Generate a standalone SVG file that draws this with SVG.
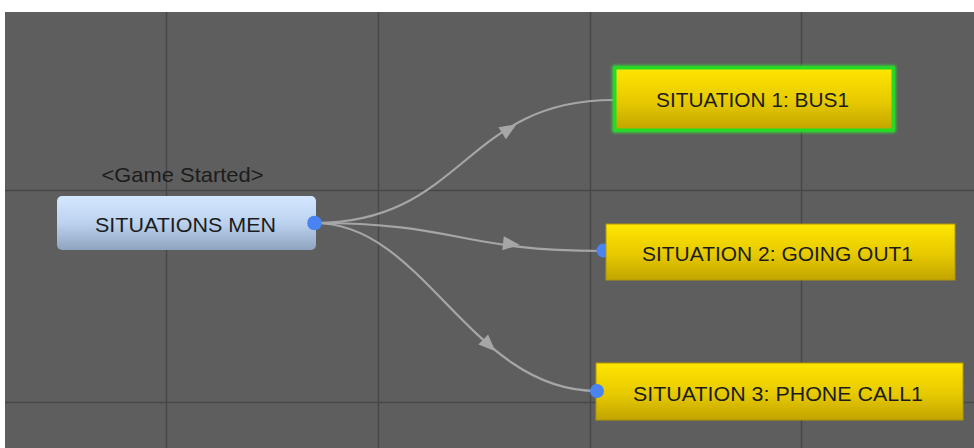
<svg xmlns="http://www.w3.org/2000/svg" width="974" height="448" viewBox="0 0 974 448">
  <defs>
    <linearGradient id="gBlue" x1="0" y1="0" x2="0" y2="1">
      <stop offset="0" stop-color="#d4e7ff"/>
      <stop offset="0.5" stop-color="#bcd2ee"/>
      <stop offset="1" stop-color="#8ea4bf"/>
    </linearGradient>
    <linearGradient id="gYellow" x1="0" y1="0" x2="0" y2="1">
      <stop offset="0" stop-color="#ffe600"/>
      <stop offset="0.55" stop-color="#e6c900"/>
      <stop offset="1" stop-color="#c2a400"/>
    </linearGradient>
    <filter id="glow" x="-10%" y="-30%" width="120%" height="160%">
      <feGaussianBlur stdDeviation="1.5"/>
    </filter>
  </defs>
  <style>
    .grid { stroke: #474747; stroke-width: 1.5; }
    .edge { fill: none; stroke: #a6a6a6; stroke-width: 2.2; }
    .arrow { fill: #a6a6a6; }
    .dot { fill: #4a84f2; }
    .label { font-family: "Liberation Sans", Arial, sans-serif; font-size: 21px; fill: #1c1c1c; text-anchor: middle; }
    .yel { fill: url(#gYellow); stroke: #b29600; stroke-width: 1; }
  </style>
  <rect x="0" y="0" width="974" height="448" fill="#ffffff"/>
  <rect x="5" y="12" width="969" height="436" fill="#5e5e5e"/>
  <g id="grid">
    <line class="grid" x1="166.5" y1="12" x2="166.5" y2="448"/>
    <line class="grid" x1="378.5" y1="12" x2="378.5" y2="448"/>
    <line class="grid" x1="590.5" y1="12" x2="590.5" y2="448"/>
    <line class="grid" x1="801.5" y1="12" x2="801.5" y2="448"/>
    <line class="grid" x1="5" y1="190.5" x2="974" y2="190.5"/>
    <line class="grid" x1="5" y1="402.5" x2="974" y2="402.5"/>
  </g>
  <g id="connectors">
    <path class="edge" d="M315,223 C464,223 464,100 613,100"/>
    <path class="edge" d="M315,223 C459,223 459,251 603,251"/>
    <path class="edge" d="M315,223 C425,223 470,391 597,391"/>
    <polygon class="arrow" points="-8,-7 9,0 -8,7" transform="translate(509,129) rotate(-32)"/>
    <polygon class="arrow" points="-8,-7 9,0 -8,7" transform="translate(511,244) rotate(6)"/>
    <polygon class="arrow" points="-8,-7 9,0 -8,7" transform="translate(489,345) rotate(44)"/>
  </g>
  <g id="start">
    <text class="label" x="182.5" y="182" textLength="162" lengthAdjust="spacingAndGlyphs">&lt;Game Started&gt;</text>
    <rect x="57" y="196" width="259" height="54" rx="5" fill="url(#gBlue)"/>
    <text class="label" x="185.5" y="232" textLength="181" lengthAdjust="spacingAndGlyphs">SITUATIONS MEN</text>
    <circle class="dot" cx="314.5" cy="223" r="7.3"/>
  </g>
  <g id="situation1">
    <rect x="615" y="68" width="278" height="62" fill="none" stroke="#2ee82e" stroke-width="5" filter="url(#glow)"/>
    <rect x="615" y="68" width="278" height="62" fill="url(#gYellow)" stroke="#22dd22" stroke-width="3"/>
    <text class="label" x="752.5" y="107" textLength="193" lengthAdjust="spacingAndGlyphs">SITUATION 1: BUS1</text>
  </g>
  <g id="situation2">
    <circle class="dot" cx="603.5" cy="250.5" r="7"/>
    <rect class="yel" x="606" y="224" width="349" height="56"/>
    <text class="label" x="777.5" y="261" textLength="271" lengthAdjust="spacingAndGlyphs">SITUATION 2: GOING OUT1</text>
  </g>
  <g id="situation3">
    <rect class="yel" x="596" y="363" width="367" height="57"/>
    <circle class="dot" cx="597" cy="391" r="7"/>
    <text class="label" x="778" y="401" textLength="290" lengthAdjust="spacingAndGlyphs">SITUATION 3: PHONE CALL1</text>
  </g>
</svg>
